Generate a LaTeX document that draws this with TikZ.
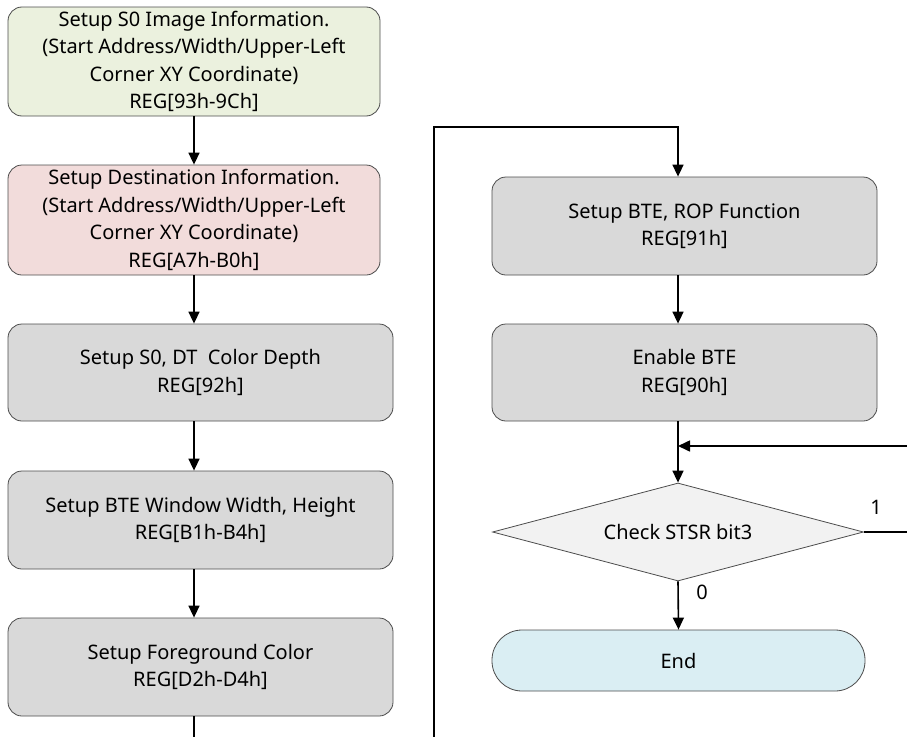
\documentclass[tikz,border=0pt]{standalone}
\usepackage{fontspec}
\setmainfont{Noto Sans}
\usetikzlibrary{arrows.meta,shapes.geometric}

\definecolor{boxgreen}{HTML}{EBF1DE}
\definecolor{boxpink}{HTML}{F2DCDB}
\definecolor{boxgray}{HTML}{D9D9D9}
\definecolor{boxlight}{HTML}{F2F2F2}
\definecolor{boxblue}{HTML}{DAEEF3}

\begin{document}
\begin{tikzpicture}[x=1pt,y=-1pt,
  stepbox/.style={draw=black!70, line width=0.8pt, rounded corners=14pt, align=center,
    inner sep=0pt, font=\fontsize{20}{27.5}\selectfont},
  flow/.style={-{Triangle[length=12pt,width=11pt]}, line width=1.6pt},
  wire/.style={line width=1.6pt}]
  \useasboundingbox (0,0) rectangle (907,736);

  % left column
  \node [stepbox, fill=boxgreen, minimum width=372pt, minimum height=109pt] (srcinfo) at (194,61.5)
    {Setup S0 Image Information.\\(Start Address/Width/Upper-Left\\Corner XY Coordinate)\\REG[93h-9Ch]};
  \node [stepbox, fill=boxpink, minimum width=372pt, minimum height=110pt] (dstinfo) at (194,220)
    {Setup Destination Information.\\(Start Address/Width/Upper-Left\\Corner XY Coordinate)\\REG[A7h-B0h]};
  \node [stepbox, fill=boxgray, minimum width=385pt, minimum height=97pt] (depth) at (200.5,372.5)
    {Setup S0, DT\ \ Color Depth\\REG[92h]};
  \node [stepbox, fill=boxgray, minimum width=385pt, minimum height=98pt] (window) at (200.5,520)
    {Setup BTE Window Width, Height\\REG[B1h-B4h]};
  \node [stepbox, fill=boxgray, minimum width=385pt, minimum height=98pt] (fgcolor) at (200.5,667)
    {Setup Foreground Color\\REG[D2h-D4h]};

  % right column
  \node [stepbox, fill=boxgray, minimum width=385pt, minimum height=98pt] (rop) at (684.5,226)
    {Setup BTE, ROP Function\\REG[91h]};
  \node [stepbox, fill=boxgray, minimum width=385pt, minimum height=97pt] (enable) at (684.5,372.5)
    {Enable BTE\\REG[90h]};
  \node [draw=black!70, line width=0.8pt, fill=boxlight, diamond, aspect=3.79, inner sep=0pt,
    minimum width=371pt, minimum height=98pt, font=\fontsize{20}{27}\selectfont] (check) at (678,532)
    {Check STSR bit3};
  \node [stepbox, fill=boxblue, rounded corners=30pt, minimum width=373pt, minimum height=61pt] (finish) at (678.5,660.5)
    {End};

  \coordinate (lcol) at (194,0);
  \coordinate (rcol) at (678,0);
  \coordinate (lbot) at (194,740);
  \coordinate (loopbot) at (434,740);
  \coordinate (looptop) at (434,127);
  \coordinate (retright) at (910,446);

  \draw [flow] (srcinfo) -- (dstinfo);
  \draw [flow] (dstinfo) -- (depth.north -| lcol);
  \draw [flow] (depth.south -| lcol) -- (window.north -| lcol);
  \draw [flow] (window.south -| lcol) -- (fgcolor.north -| lcol);
  \draw [wire] (fgcolor.south -| lcol) -- (lbot);

  \draw [flow] (loopbot) -- (looptop) -| (rop.north -| rcol);
  \draw [flow] (rop.south -| rcol) -- (enable.north -| rcol);
  \draw [flow] (enable.south -| rcol) -- (check.north);
  \draw [flow] (retright) -- (retright -| rcol);
  \draw [wire] (check.east) -- (check.east -| retright);
  \draw [flow] (check.south) -- (finish.north);

  \node [font=\fontsize{20}{20}\selectfont] (one) at (876,507) {1};
  \node [font=\fontsize{20}{20}\selectfont] (zero) at (702,592) {0};
\end{tikzpicture}
\end{document}
